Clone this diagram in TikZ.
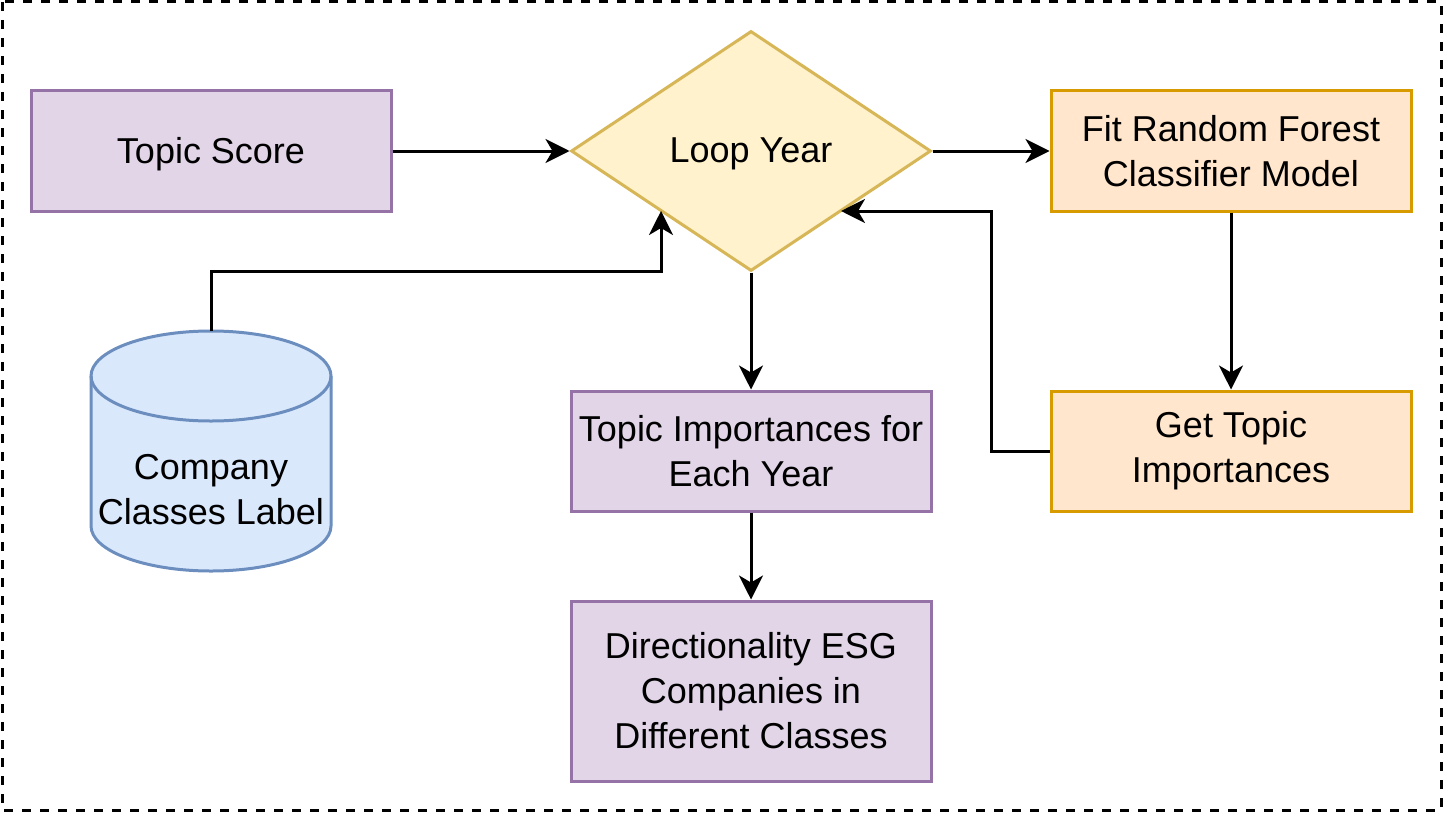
\documentclass[tikz,border=0pt]{standalone}
\usepackage{fontspec}
\setmainfont{Liberation Sans}
\usetikzlibrary{arrows.meta,shapes.geometric}
\definecolor{purfill}{HTML}{E1D5E7}
\definecolor{purline}{HTML}{9673A6}
\definecolor{yelfill}{HTML}{FFF2CC}
\definecolor{yelline}{HTML}{D6B656}
\definecolor{orafill}{HTML}{FFE6CC}
\definecolor{oraline}{HTML}{D79B00}
\definecolor{blufill}{HTML}{DAE8FC}
\definecolor{bluline}{HTML}{6C8EBF}
\tikzset{
  base/.style={font=\fontsize{18pt}{22.5pt}\selectfont, align=center, line width=1.5pt, inner sep=0pt},
  txt/.style={base, yshift=-1.6pt},
  purbox/.style={base, draw=purline, fill=purfill, minimum width=180pt, minimum height=60pt},
  orabox/.style={base, draw=oraline, fill=orafill, minimum width=180pt, minimum height=60pt},
  conn/.style={line width=1.5pt, -{Stealth[length=12pt,width=12pt,inset=3.5pt]}},
}
\begin{document}
\begin{tikzpicture}[x=0.5pt,y=-0.5pt]
\useasboundingbox (0,0) rectangle (1443,813);
\draw[line width=1.5pt, dash pattern=on 4.5pt off 4.5pt] (2,2) rectangle (1441,810);
% nodes
\node[purbox, label={[txt]center:Topic Score}] (ts) at (211,151) {};
\node[base, draw=yelline, fill=yelfill, diamond, aspect=1.5, minimum width=180pt, minimum height=120pt, label={[txt]center:Loop Year}] (ly) at (751,151) {};
\node[orabox] (fit) at (1231,151) {Fit Random Forest\\Classifier Model};
\node[orabox] (get) at (1231,451) {Get Topic\\Importances};
\node[purbox] (tie) at (751,451) {Topic Importances for\\Each Year};
\node[purbox, minimum height=90pt] (dir) at (751,691) {Directionality ESG\\Companies in\\Different Classes};
% cylinder
\coordinate (cyltop) at (211,331);
\filldraw[line width=1.5pt, draw=bluline, fill=blufill]
  (91,376) -- (91,526) arc[start angle=180,end angle=0,x radius=120,y radius=45]
  -- (331,376) arc[start angle=0,end angle=-180,x radius=120,y radius=45] -- cycle;
\draw[line width=1.5pt, draw=bluline] (91,376) arc[start angle=180,end angle=0,x radius=120,y radius=45];
\node[base] (cyl) at (211,490) {Company\\Classes Label};
% connection points on diamond
\coordinate (ldl) at (661,211);
\coordinate (ldr) at (841,211);
% connectors
\draw[conn] (ts.east) -- (ly.west);
\draw[conn] (ly.east) -- (fit.west);
\draw[conn] (fit.south) -- (get.north);
\draw[conn] (get.west) -- (991,451) -- (991,211) -- (ldr);
\draw[conn] (cyltop) -- (211,271) -- (661,271) -- (ldl);
\draw[conn] (ly.south) -- (tie.north);
\draw[conn] (tie.south) -- (dir.north);
\end{tikzpicture}
\end{document}
